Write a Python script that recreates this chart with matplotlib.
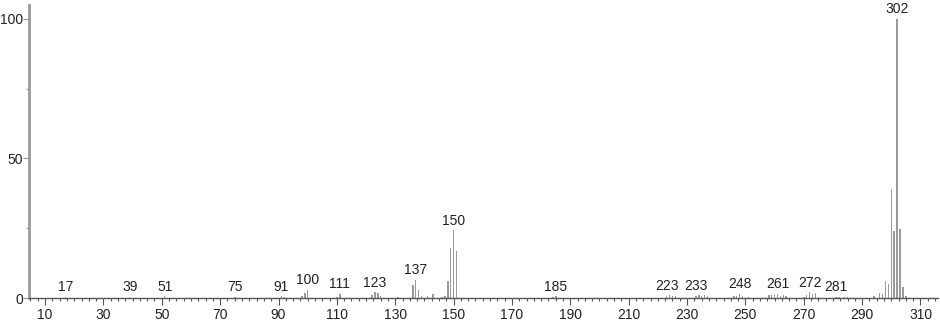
import matplotlib
matplotlib.use("Agg")
import matplotlib.pyplot as plt
from matplotlib.ticker import MultipleLocator

plt.rcParams.update({
    "font.family": ["Liberation Sans", "DejaVu Sans"],
    "font.size": 10,
})

mz = [17, 39, 51, 75, 91, 92, 98, 99, 100, 110, 111,
      122, 123, 124, 125, 131,
      136, 137, 138, 139, 141, 143, 146, 147, 148, 149, 150, 151,
      184, 185,
      223, 224, 225, 226,
      233, 234, 235, 236, 237,
      246, 247, 248, 249, 251,
      258, 259, 260, 261, 262, 263, 264,
      270, 271, 272, 273, 274, 275,
      281, 282, 284, 285,
      294, 296, 297, 298, 299, 300, 301, 302, 303, 304, 305]
intensity = [0.5, 0.5, 0.6, 0.5, 0.6, 0.5, 0.6, 1.9, 3.0, 0.5, 1.4,
             0.9, 2.0, 1.9, 0.6, 0.4,
             4.6, 6.5, 2.9, 0.6, 0.7, 1.3, 0.5, 0.6, 6.0, 18.0, 24.2, 17.0,
             0.4, 0.6,
             0.7, 0.9, 0.8, 0.6,
             0.7, 0.9, 0.8, 0.9, 0.6,
             0.8, 0.6, 1.4, 0.8, 0.5,
             0.9, 1.0, 0.9, 1.4, 0.8, 1.0, 0.8,
             0.5, 1.0, 2.0, 1.5, 1.7, 0.5,
             0.5, 0.4, 0.5, 0.5,
             0.7, 1.8, 1.4, 6.2, 5.1, 39.0, 24.1, 100.0, 24.6, 4.0, 0.6]
labelled = [17, 39, 51, 75, 91, 100, 111, 123, 137, 150, 185,
            223, 233, 248, 261, 272, 281, 302]

fig = plt.figure(figsize=(9.4, 3.2), dpi=100)
ax = fig.add_axes([29 / 940, 22 / 320, 909 / 940, 293 / 320])

ax.bar(mz, intensity, width=0.55, color="#9a9a9a", linewidth=0)

for m in labelled:
    h = intensity[mz.index(m)]
    ax.annotate(str(m), (m, h), xytext=(0, 2), textcoords="offset points",
                ha="center", va="bottom", fontsize=10, color="#222222")

ax.set_xlim(4.5, 316)
ax.set_ylim(0, 105)
ax.set_xticks(range(10, 311, 20))
ax.xaxis.set_minor_locator(MultipleLocator(2.5))
ax.set_yticks([0, 50, 100])
ax.yaxis.set_minor_locator(MultipleLocator(25))

for s in ["top", "right"]:
    ax.spines[s].set_visible(False)
ax.spines["left"].set_color("#999999")
ax.spines["left"].set_linewidth(2)
ax.spines["bottom"].set_color("#555555")
ax.spines["bottom"].set_linewidth(1)

ax.tick_params(which="major", length=5, width=0.8, color="#555555",
               labelcolor="#222222", pad=2)
ax.tick_params(which="minor", length=2.5, width=0.8, color="#555555")
ax.tick_params(axis="y", which="major", length=4, pad=0.5, color="#999999")
ax.tick_params(axis="y", which="minor", color="#999999")

fig.savefig("out.png", dpi=100)
